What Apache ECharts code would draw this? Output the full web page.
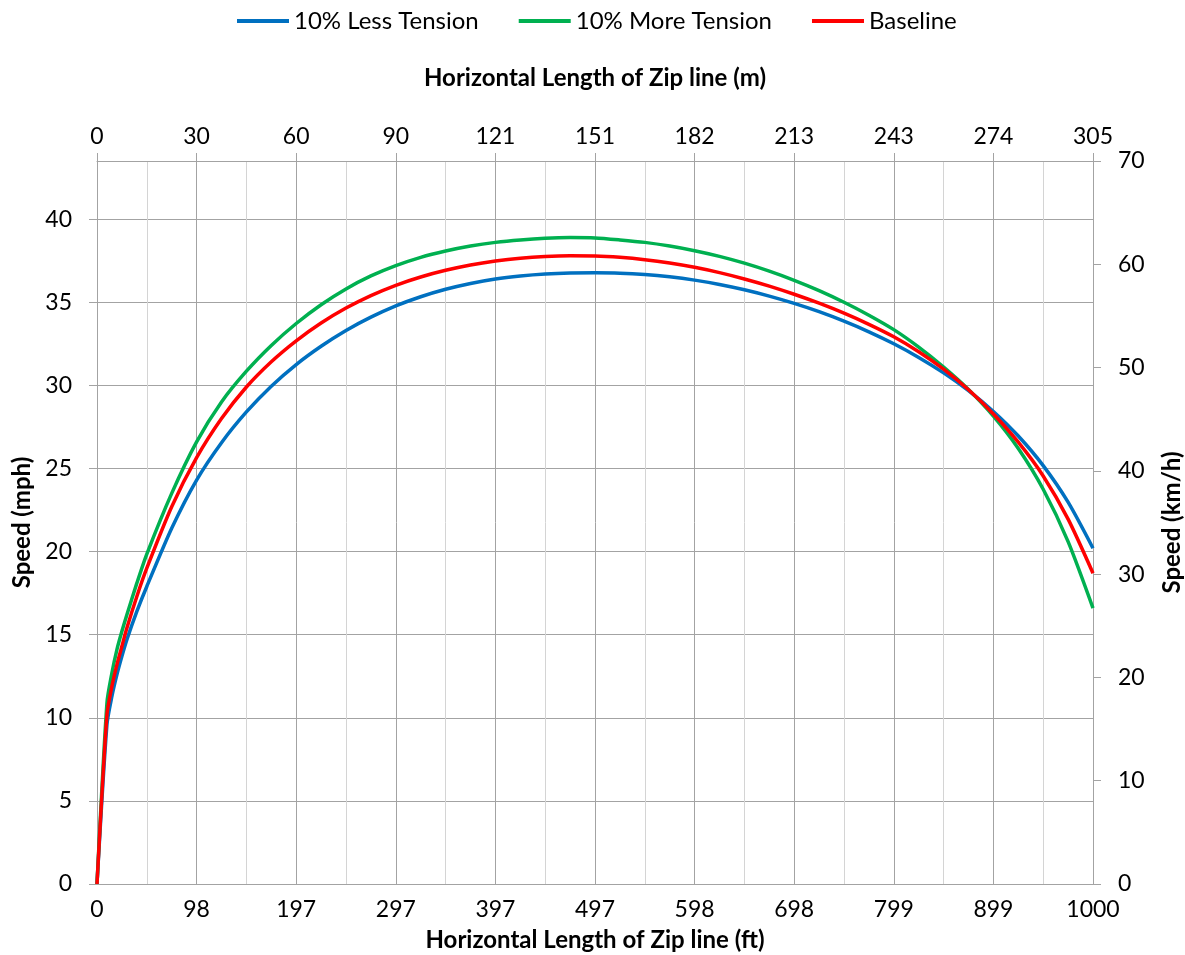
<!DOCTYPE html>
<html>
<head>
<meta charset="utf-8">
<title>Zip line speed</title>
<script src="https://cdn.jsdelivr.net/npm/echarts@6/dist/echarts.min.js"></script>
<style>
  html, body { margin: 0; padding: 0; background: #fff; }
  #main { width: 1185px; height: 955px; }
</style>
</head>
<body>
<div id="main"></div>
<script>
// horizontal distance (ft)
var distFt = [0, 10, 15, 20, 25, 30, 40, 50, 75, 100,
  125, 150, 175, 200, 225, 250, 275, 300,
  325, 350, 375, 400, 425, 450, 475, 500,
  525, 550, 575, 600, 625, 650, 675, 700,
  725, 750, 775, 800, 825, 850, 875, 900,
  925, 950, 975, 1000];

// speed (mph)
var lessTension = [0, 9.6, 11.3, 12.6, 13.7, 14.7, 16.4, 17.9, 21.4, 24.3,
  26.55, 28.4, 29.95, 31.25, 32.35, 33.3, 34.1, 34.78,
  35.33, 35.78, 36.13, 36.4, 36.58, 36.7, 36.76, 36.77,
  36.75, 36.67, 36.53, 36.33, 36.07, 35.75, 35.37, 34.93,
  34.43, 33.86, 33.22, 32.5, 31.68, 30.75, 29.68, 28.43,
  26.95, 25.17, 22.97, 20.2];
var moreTension = [0, 10.9, 12.7, 14.1, 15.2, 16.2, 18.1, 19.85, 23.5, 26.6,
  29.0, 30.85, 32.4, 33.72, 34.85, 35.8, 36.58, 37.2,
  37.7, 38.08, 38.38, 38.6, 38.75, 38.85, 38.89, 38.87,
  38.75, 38.6, 38.38, 38.1, 37.76, 37.35, 36.87, 36.32,
  35.7, 35.0, 34.22, 33.35, 32.3, 31.1, 29.75, 28.15,
  26.2, 23.75, 20.6, 16.6];
var baseline = [0, 10.2, 11.9, 13.2, 14.3, 15.4, 17.3, 19.0, 22.7, 25.65,
  28.0, 29.9, 31.42, 32.68, 33.75, 34.65, 35.4, 36.02,
  36.52, 36.92, 37.24, 37.48, 37.65, 37.75, 37.79, 37.78,
  37.7, 37.56, 37.36, 37.1, 36.78, 36.4, 35.97, 35.48,
  34.94, 34.34, 33.67, 32.92, 32.02, 30.97, 29.73, 28.28,
  26.58, 24.55, 21.95, 18.7];

// tick labels
var ftLabels = ['0', '98', '197', '297', '397', '497', '598', '698', '799', '899', '1000'];
var mLabels = ['0', '30', '60', '90', '121', '151', '182', '213', '243', '274', '305'];

var FONT = 'Lato';
var GRID_DARK = '#a3a3a3';
var GRID_LIGHT = '#d4d4d4';
var TICK_SIZE = 23;
var TITLE_SIZE = 24;

function pairs(ys) {
  var out = [];
  for (var i = 0; i < distFt.length; i++) {
    out.push([distFt[i], ys[i]]);
  }
  return out;
}

function lineSeries(name, color, ys) {
  return {
    name: name,
    type: 'line',
    xAxisIndex: 0,
    yAxisIndex: 0,
    data: pairs(ys),
    showSymbol: false,
    smooth: 0.25,
    lineStyle: { color: color, width: 3.5, join: 'round' },
    itemStyle: { color: color }
  };
}

var titleStyle = { fontFamily: FONT, fontSize: TITLE_SIZE, fontWeight: 'bold', color: '#000' };
var axisLineStyle = { show: true, onZero: false, lineStyle: { color: GRID_DARK } };

var chart = echarts.init(document.getElementById('main'));

var option = {
  animation: false,
  textStyle: { fontFamily: FONT },
  legend: {
    top: 4,
    left: 232,
    icon: 'rect',
    itemWidth: 52,
    itemHeight: 4,
    itemGap: 40,
    textStyle: { fontFamily: FONT, fontSize: TITLE_SIZE, color: '#000' },
    data: ['10% Less Tension', '10% More Tension', 'Baseline']
  },
  grid: { left: 97, right: 92, top: 161, bottom: 71, outerBoundsMode: 'none' },
  xAxis: [{
    type: 'value',
    position: 'bottom',
    min: 0,
    max: 1000,
    interval: 100,
    name: 'Horizontal Length of Zip line (ft)',
    nameLocation: 'middle',
    nameGap: 44,
    nameTextStyle: titleStyle,
    axisLine: axisLineStyle,
    axisTick: { show: false },
    axisLabel: {
      fontSize: TICK_SIZE, color: '#000', margin: 14,
      formatter: function (v) { return ftLabels[Math.round(v / 100)]; }
    },
    splitLine: { show: true, lineStyle: { color: GRID_DARK } },
    minorTick: { show: false, splitNumber: 2 },
    minorSplitLine: { show: true, lineStyle: { color: GRID_LIGHT } }
  }, {
    type: 'value',
    position: 'top',
    min: 0,
    max: 1000,
    interval: 100,
    name: 'Horizontal Length of Zip line (m)',
    nameLocation: 'middle',
    nameGap: 71,
    nameTextStyle: titleStyle,
    axisLine: axisLineStyle,
    axisTick: { show: true, length: 8, lineStyle: { color: GRID_DARK } },
    axisLabel: {
      fontSize: TICK_SIZE, color: '#000', margin: 13,
      formatter: function (v) { return mLabels[Math.round(v / 100)]; }
    },
    splitLine: { show: false }
  }],
  yAxis: [{
    type: 'value',
    position: 'left',
    min: 0,
    max: 70 / 1.609344,
    interval: 5,
    name: 'Speed (mph)',
    nameLocation: 'middle',
    nameRotate: 90,
    nameGap: 63,
    nameTextStyle: titleStyle,
    axisLine: axisLineStyle,
    axisTick: { show: true, length: 8, lineStyle: { color: GRID_DARK } },
    axisLabel: { fontSize: TICK_SIZE, color: '#000', margin: 25, showMaxLabel: false },
    splitLine: { show: true, lineStyle: { color: GRID_DARK } }
  }, {
    type: 'value',
    position: 'right',
    min: 0,
    max: 70,
    interval: 10,
    name: 'Speed (km/h)',
    nameLocation: 'middle',
    nameRotate: 90,
    nameGap: 67,
    nameTextStyle: titleStyle,
    axisLine: axisLineStyle,
    axisTick: { show: true, length: 8, lineStyle: { color: GRID_DARK } },
    axisLabel: { fontSize: TICK_SIZE, color: '#000', margin: 25 },
    splitLine: { show: false }
  }],
  series: [
    lineSeries('10% Less Tension', '#0070C0', lessTension),
    lineSeries('10% More Tension', '#00B050', moreTension),
    lineSeries('Baseline', '#FF0000', baseline)
  ]
};

chart.setOption(option);
</script>
</body>
</html>
